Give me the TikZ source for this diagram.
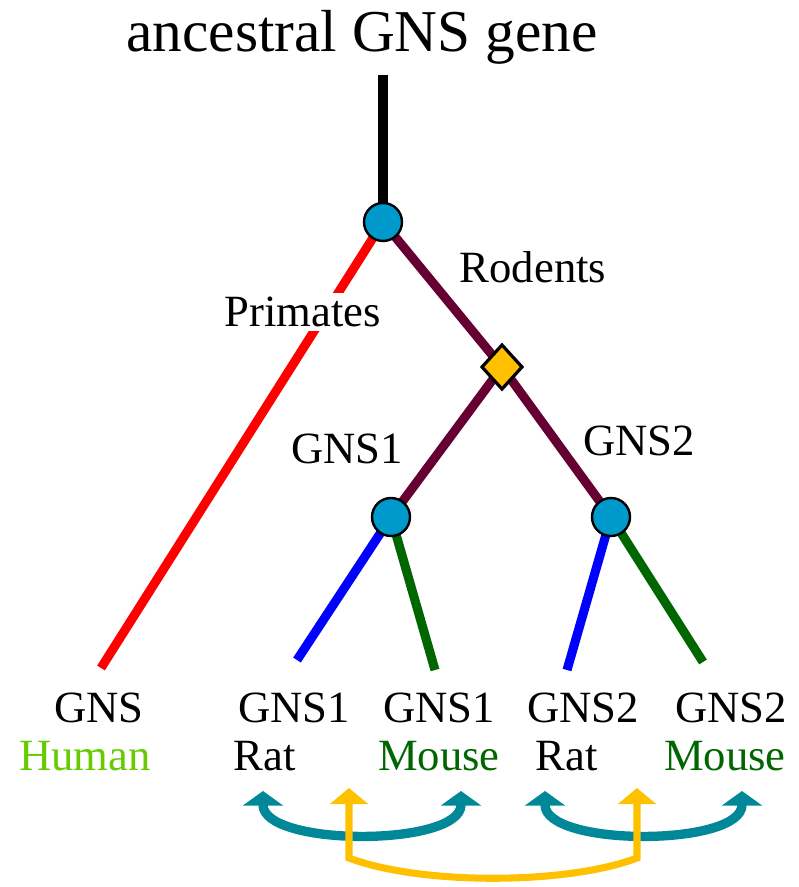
\documentclass[tikz,border=0pt]{standalone}
\usepackage{fontspec}
\setmainfont{Liberation Serif}
\newfontfamily\treefont{Liberation Serif}
\usepackage{xcolor}
\usetikzlibrary{arrows.meta,shapes.geometric,backgrounds}
\definecolor{rodent}{HTML}{660033}
\definecolor{nodeblue}{HTML}{0099CC}
\definecolor{gold}{HTML}{FFC000}
\definecolor{mouse}{HTML}{006600}
\definecolor{human}{HTML}{66CC00}
\definecolor{ortho}{HTML}{008899}

\begin{document}
\begin{tikzpicture}[x=0.75pt,y=-0.75pt,
  branch/.style={line width=6.8pt},
  spec/.style={circle,draw=black,line width=1.8pt,fill=nodeblue,minimum size=28.5pt,inner sep=0pt},
  dup/.style={diamond,draw=black,line width=2.4pt,fill=gold,minimum width=31pt,minimum height=34pt,inner sep=0pt},
  lbl/.style={font=\treefont\fontsize{33.5}{36}\selectfont,anchor=base,inner sep=1pt},
  orthoarrow/.style={draw=ortho,line width=7pt,{Triangle[width=30pt,length=11pt]}-{Triangle[width=30pt,length=11pt]}},
  paraarrow/.style={draw=gold,line width=5.3pt,{Triangle[width=28pt,length=12pt]}-{Triangle[width=28pt,length=12pt]}}]
  \useasboundingbox (0,0) rectangle (798,887);

  % tree nodes
  \node[lbl,font=\treefont\fontsize{44.5}{48}\selectfont] (title) at (362,52) {ancestral GNS gene};
  \coordinate (stem) at (383,75);
  \node[spec] (root) at (383,222) {};
  \node[dup] (dupl) at (502,367) {};
  \node[spec] (sp1) at (391,517) {};
  \node[spec] (sp2) at (611,517) {};

  % leaf ends
  \coordinate (human) at (101,668);
  \coordinate (rat1) at (297,660);
  \coordinate (mouse1) at (435,670);
  \coordinate (rat2) at (567,670);
  \coordinate (mouse2) at (703,662);

  \begin{scope}[on background layer]
    \draw[branch,black] (stem) -- (root.center);
    \draw[branch,red] (root.center) -- (human);
    \draw[branch,rodent] (root.center) -- (dupl.center) -- (sp2.center);
    \draw[branch,rodent] (dupl.center) -- (sp1.center);
    \draw[branch,blue] (sp1.center) -- (rat1);
    \draw[branch,mouse] (sp1.center) -- (mouse1);
    \draw[branch,blue] (sp2.center) -- (rat2);
    \draw[branch,mouse] (sp2.center) -- (mouse2);
  \end{scope}

  % branch labels
  \node[lbl] (rodents) at (533,283) {Rodents};
  \node[lbl,fill=white,inner sep=3pt] (primates) at (303,327) {Primates};
  \node[lbl] (gns1) at (347,463) {GNS1};
  \node[lbl] (gns2) at (639,455) {GNS2};

  % leaf labels
  \node[lbl] (gnsh) at (99,722) {GNS};
  \node[lbl,text=human] (hs) at (85,770) {Human};
  \node[lbl] (gnsr1) at (294,722) {GNS1};
  \node[lbl] (r1) at (265,770) {Rat};
  \node[lbl] (gnsm1) at (439,722) {GNS1};
  \node[lbl,text=mouse] (m1) at (439,770) {Mouse};
  \node[lbl] (gnsr2) at (583,722) {GNS2};
  \node[lbl] (r2) at (567,770) {Rat};
  \node[lbl] (gnsm2) at (731,722) {GNS2};
  \node[lbl,text=mouse] (m2) at (725,770) {Mouse};

  % orthologues and paralogues
  \coordinate (o1a) at (263,791);
  \coordinate (o1b) at (461,791);
  \coordinate (o2a) at (545,791);
  \coordinate (o2b) at (742,791);
  \coordinate (p1) at (349,788);
  \coordinate (p2) at (637,788);
  \draw[orthoarrow] (o1a) .. controls (263,847) and (461,847) .. (o1b);
  \draw[orthoarrow] (o2a) .. controls (545,847) and (742,847) .. (o2b);
  \draw[paraarrow] (p1) -- (349,858) .. controls (420,885) and (566,885) .. (637,858) -- (p2);
\end{tikzpicture}
\end{document}
